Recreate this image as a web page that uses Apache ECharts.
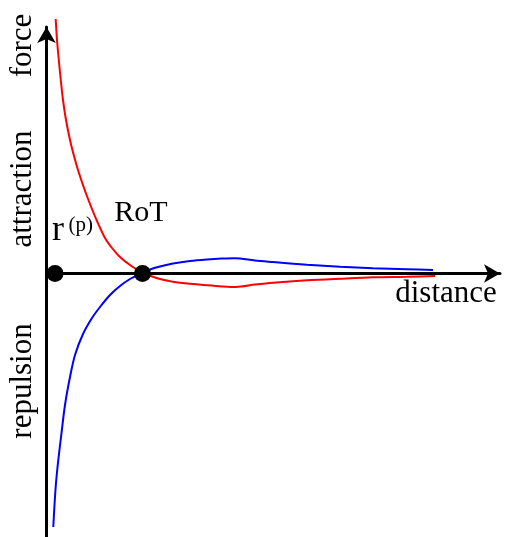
<!DOCTYPE html>
<html>
<head>
<meta charset="utf-8">
<script src="https://cdn.jsdelivr.net/npm/echarts@6/dist/echarts.min.js"></script>
<style>
html,body{margin:0;padding:0;background:#fff;}
#main{width:509px;height:537px;}
</style>
</head>
<body>
<div id="main"></div>
<script>
// distance (RoT = 1), force (attraction positive)
var redX = [0.0958, 0.1094, 0.1302, 0.1510, 0.1719, 0.2031, 0.2448, 0.2865, 0.3281, 0.3906, 0.4531, 0.5260, 0.6094, 0.6823, 0.7656, 0.8698, 0.9740, 1.0781, 1.1823, 1.3177, 1.4948, 1.6719, 1.8281, 1.9740, 2.1719, 2.3594, 2.7135, 3.0573, 3.4010, 3.7552, 4.0469];
var redY = [25.45, 23.35, 21.15, 19.15, 17.35, 15.35, 13.35, 11.75, 10.35, 8.55, 6.95, 5.25, 3.55, 2.55, 1.65, 0.85, 0.22, -0.23, -0.55, -0.82, -1.03, -1.18, -1.29, -1.35, -1.11, -0.92, -0.68, -0.52, -0.38, -0.32, -0.25];
var blueX = [0.0708, 0.0833, 0.0990, 0.1229, 0.1563, 0.1927, 0.2448, 0.2969, 0.3802, 0.4740, 0.5573, 0.6615, 0.7656, 0.8698, 0.9740, 1.0781, 1.1823, 1.3177, 1.4948, 1.6719, 1.8281, 1.9635, 2.1719, 2.3594, 2.7135, 3.0573, 3.4010, 3.7552, 4.0260];
var blueY = [-25.35, -23.15, -20.95, -18.65, -15.95, -13.15, -10.35, -8.15, -6.05, -4.45, -3.35, -2.15, -1.25, -0.55, -0.05, 0.40, 0.70, 1.00, 1.25, 1.40, 1.49, 1.53, 1.30, 1.15, 0.88, 0.68, 0.52, 0.42, 0.35];
var dotX = [0.089, 1.0];
var dotY = [0, 0];

function pairs(xs, ys){ return xs.map(function(x,i){ return [x, ys[i]]; }); }

var chart = echarts.init(document.getElementById('main'), null, {renderer:'canvas'});
var serif = '"Liberation Serif", "Times New Roman", serif';
var axisCommon = {
  type: 'value',
  axisLabel: {show:false}, axisTick: {show:false}, splitLine: {show:false},
  axisLine: {show:true, onZero:true, symbol:['none','arrow'], symbolSize:[14,16],
             lineStyle:{color:'#000', width:3}}
};
chart.setOption({
  animation: false,
  backgroundColor: '#fff',
  grid: {left: 46.5, top: 27, width: 453.5, height: 510},
  xAxis: Object.assign({}, axisCommon, {min: 0, max: 4.724}),
  yAxis: Object.assign({}, axisCommon, {min: -26.35, max: 24.65}),
  series: [
    {type:'line', data: pairs(redX, redY), smooth: 0.3, showSymbol:false, clip:false,
     lineStyle:{color:'#ff0000', width:2}},
    {type:'line', data: pairs(blueX, blueY), smooth: 0.3, showSymbol:false, clip:false,
     lineStyle:{color:'#0000ff', width:2}},
    {type:'scatter', data: pairs(dotX, dotY), symbolSize:17, itemStyle:{color:'#000', opacity:1}, z:5}
  ],
  graphic: [
    {type:'text', x:23, y:45.5, rotation:Math.PI/2, style:{text:'force', font:'31px '+serif, fill:'#000', align:'center', verticalAlign:'middle'}},
    {type:'text', x:23, y:189, rotation:Math.PI/2, style:{text:'attraction', font:'31px '+serif, fill:'#000', align:'center', verticalAlign:'middle'}},
    {type:'text', x:23, y:381, rotation:Math.PI/2, style:{text:'repulsion', font:'31px '+serif, fill:'#000', align:'center', verticalAlign:'middle'}},
    {type:'text', x:446, y:293.5, style:{text:'distance', font:'31px '+serif, fill:'#000', align:'center', verticalAlign:'middle'}},
    {type:'text', x:141, y:213, style:{text:'RoT', font:'30px '+serif, fill:'#000', align:'center', verticalAlign:'middle'}},
    {type:'text', x:52, y:231, style:{text:'r', font:'36px '+serif, fill:'#000', align:'left', verticalAlign:'middle'}},
    {type:'text', x:68.5, y:225.4, style:{text:'(p)', font:'21px '+serif, fill:'#000', align:'left', verticalAlign:'middle'}}
  ]
});
</script>
</body>
</html>
